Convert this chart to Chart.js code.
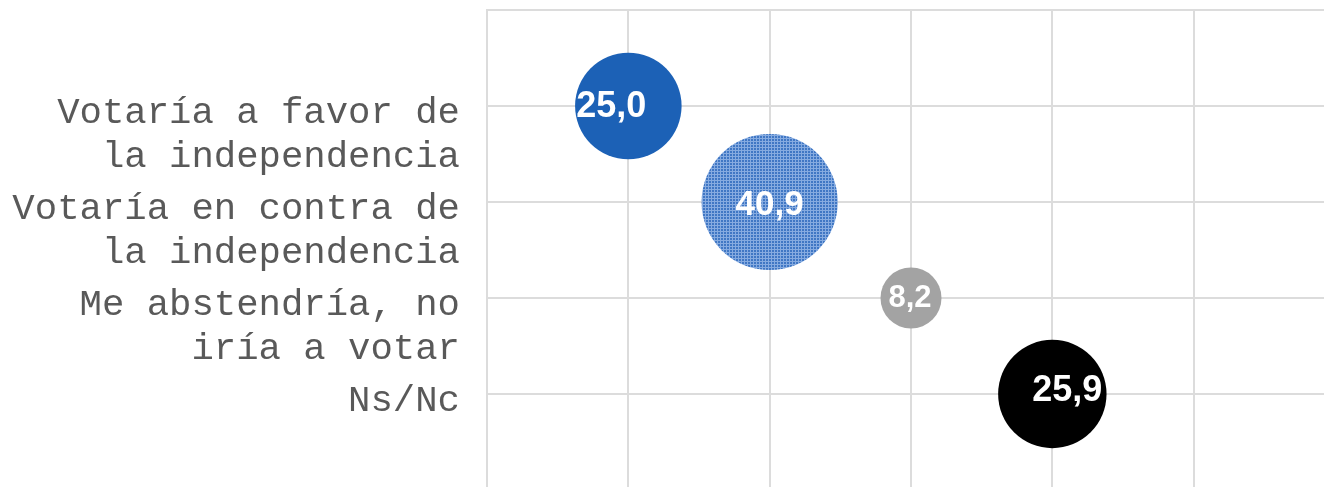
<!DOCTYPE html>
<html>
<head>
<meta charset="utf-8">
<script src="https://cdn.jsdelivr.net/npm/chart.js@4/dist/chart.umd.min.js"></script>
<style>
  html, body { margin: 0; padding: 0; background: #ffffff; overflow: hidden; }
  #c { display: block; }
</style>
</head>
<body>
<canvas id="c" width="1340" height="492"></canvas>
<script>
// ---- data ----
const categories = [
  ['Votaría a favor de', 'la independencia'],
  ['Votaría en contra de', 'la independencia'],
  ['Me abstendría, no', 'iría a votar'],
  ['Ns/Nc']
];
const values = [25.0, 40.9, 8.2, 25.9];
const valueLabels = ['25,0', '40,9', '8,2', '25,9'];
const xPositions = [1, 2, 3, 4];
const yPositions = [1, 2, 3, 4];

// ---- pattern for the "en contra" bubble ----
function makePattern() {
  const p = document.createElement('canvas');
  p.width = 3; p.height = 3;
  const g = p.getContext('2d');
  g.fillStyle = '#4077c4';
  g.fillRect(0, 0, 3, 3);
  g.fillStyle = '#86abe0';
  g.fillRect(0, 0, 3, 1);
  g.fillRect(0, 0, 1, 3);
  return document.getElementById('c').getContext('2d').createPattern(p, 'repeat');
}
const colors = ['#1c61b6', makePattern(), '#a3a3a3', '#000000'];

const RADIUS_K = 10.65;
const points = values.map((v, i) => ({ x: xPositions[i], y: yPositions[i], r: RADIUS_K * Math.sqrt(v) }));

const valueLabelPlugin = {
  id: 'valueLabels',
  afterDatasetsDraw(chart, args, opts) {
    const ctx = chart.ctx;
    const meta = chart.getDatasetMeta(0);
    ctx.save();
    ctx.fillStyle = '#ffffff';
    ctx.textAlign = 'center';
    ctx.textBaseline = 'middle';
    meta.data.forEach((el, i) => {
      ctx.font = 'bold ' + opts.sizes[i] + 'px "Liberation Sans", Arial, sans-serif';
      ctx.fillText(valueLabels[i], el.x + opts.dx[i], el.y + opts.dy[i]);
    });
    ctx.restore();
  }
};

const gridColor = '#dcdcdc';

new Chart(document.getElementById('c'), {
  type: 'bubble',
  data: {
    datasets: [{
      data: points,
      backgroundColor: colors,
      borderWidth: 0,
      hoverBorderWidth: 0,
      clip: false
    }]
  },
  options: {
    responsive: false,
    animation: false,
    events: [],
    layout: { autoPadding: false, padding: { top: 10, bottom: 2, right: 5, left: 0 } },
    plugins: {
      legend: { display: false },
      tooltip: { enabled: false },
      valueLabels: {
        sizes: [36, 35, 31, 36],
        dx: [-17, 0, -1, 15],
        dy: [1, 3, 0, -3]
      }
    },
    scales: {
      x: {
        type: 'linear',
        min: 0, max: 6,
        ticks: { display: false, stepSize: 1 },
        grid: { color: gridColor, lineWidth: 2, drawTicks: false },
        border: { display: false }
      },
      y: {
        type: 'linear',
        min: 0, max: 5,
        reverse: true,
        ticks: {
          stepSize: 1,
          autoSkip: false,
          padding: 27,
          labelOffset: 29,
          color: '#595959',
          font: { family: '"Liberation Mono", "Courier New", monospace', size: 37.3, lineHeight: 1.16 },
          callback: (v) => {
            const c = categories[v - 1];
            if (!c) return '';
            return c.length === 1 ? [c[0], ''] : c;
          }
        },
        grid: { color: gridColor, lineWidth: 2, drawTicks: false },
        border: { display: true, color: gridColor, width: 2 },
        afterFit: (scale) => {
          scale.width = 487;
          scale.paddingTop = 0;
          scale.paddingBottom = 0;
        }
      }
    }
  },
  plugins: [valueLabelPlugin]
});
</script>
</body>
</html>
